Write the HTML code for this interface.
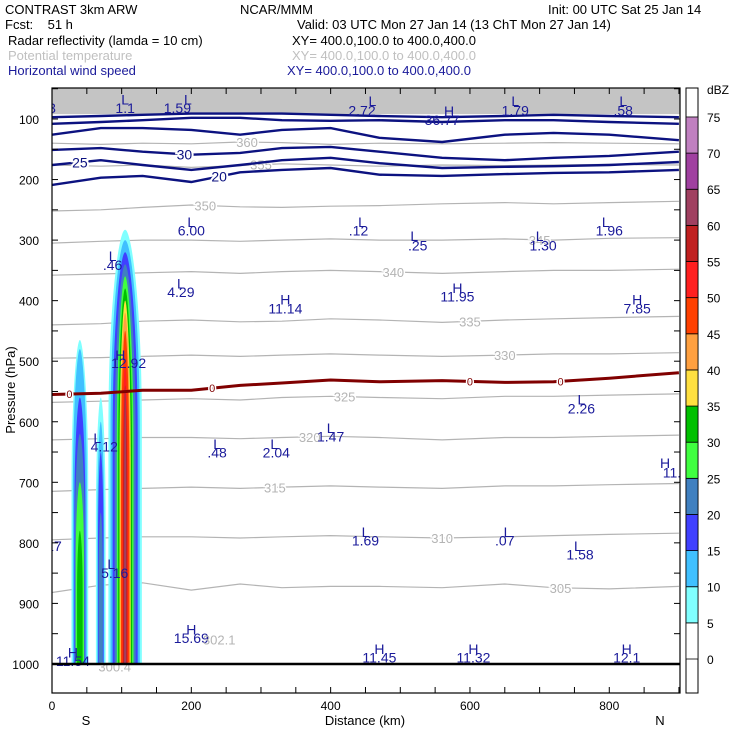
<!DOCTYPE html>
<html><head><meta charset="utf-8"><style>
body{margin:0;background:#fff;}
svg{display:block;font-family:"Liberation Sans",sans-serif;}
</style></head><body>
<svg id="chart" width="740" height="740" viewBox="0 0 740 740" xmlns="http://www.w3.org/2000/svg">
<g font-size="13" fill="#000">
<text x="5" y="14">CONTRAST  3km ARW</text>
<text x="240" y="14">NCAR/MMM</text>
<text x="548" y="14">Init: 00 UTC Sat 25 Jan 14</text>
<text x="5" y="29" xml:space="preserve">Fcst:    51 h</text>
<text x="297" y="29">Valid: 03 UTC Mon 27 Jan 14 (13 ChT Mon 27 Jan 14)</text>
<text x="8" y="45">Radar reflectivity (lamda = 10 cm)</text>
<text x="292" y="45">XY= 400.0,100.0 to 400.0,400.0</text>
<text x="8" y="60" fill="#c0c0c0">Potential temperature</text>
<text x="292" y="60" fill="#c0c0c0">XY= 400.0,100.0 to 400.0,400.0</text>
<text x="8" y="75" fill="#1a1a9a">Horizontal wind speed</text>
<text x="287" y="75" fill="#1a1a9a">XY= 400.0,100.0 to 400.0,400.0</text>
</g>
<defs><clipPath id="pc"><rect x="52" y="88" width="628" height="605"/></clipPath></defs>
<g id="plot" clip-path="url(#pc)"></g>
<g id="axes"></g>
<g id="cbar"></g>
</svg>
<script>
const NS="http://www.w3.org/2000/svg";
// ---- data ----
const kmPts=[0,70,130,200,270,330,400,470,560,650,720,800,900];
const thetaLevels=[360,355,350,345,340,335,330,325,320,315,310,305];
const thetaP=[
[140,142,140,141,138,139,142,140,141,140,139,140,141],
[176,178,176,180,177,174,176,178,176,177,176,175,176],
[252,250,246,242,245,246,244,243,240,238,240,238,236],
[305,302,300,300,302,300,298,300,300,298,300,297,296],
[358,356,354,352,355,352,350,352,355,352,350,350,348],
[440,438,434,432,435,434,430,432,436,432,430,428,426],
[495,494,492,490,492,490,488,490,492,490,488,488,486],
[568,566,564,562,564,560,558,560,562,558,558,556,554],
[630,628,626,626,628,626,624,626,630,626,626,624,622],
[715,712,710,708,710,708,706,708,710,706,706,704,702],
[795,792,790,790,792,790,788,790,792,790,788,786,784],
[882,870,866,878,868,874,872,872,874,868,874,876,872]];
const thetaLabelKm=[280,300,220,700,490,600,650,420,370,320,560,730];
const windLevels=[45,40,35,30,25,20];
const windP=[
[97,95,93,91,91,91,93,95,97,95,93,95,97],
[108,105,102,98,98,102,103,102,105,102,102,105,108],
[126,115,115,118,126,118,115,131,138,126,123,126,135],
[151,148,154,159,156,148,146,154,164,168,164,161,154],
[176,168,176,184,176,168,164,173,181,179,178,176,171],
[209,197,194,204,188,184,181,192,194,191,189,188,184]];
const windLabelKm=[null,null,null,190,40,240];
const freezeP=[555,553,548,548,540,536,531,534,532,535,534,528,519];
const dbzLevels=[5,10,15,20,25,30,35,40,45,50,55,60];
const dbzColors=["#80ffff","#40c0ff","#4040ff","#4080c0","#40ff40","#00c000","#ffe040","#ffa040","#ff4000","#ff2020","#c02020","#a04060"];
const cellCenterKm=[40,70,105];
const cellHalfWidth=[[12,10,8,7,6,4,0,0,0,0,0,0],[7,5,4,3,0,0,0,0,0,0,0,0],[24,21,18,15,12,10,8,7,6,4,3,1.5]];
const cellTopP=[[465,480,560,620,700,780,0,0,0,0,0,0],[560,600,650,750,0,0,0,0,0,0,0,0],[283,300,320,340,360,380,400,420,450,500,540,545]];
const extremaText=["L","1.1","L","1.59","L","2.72","H","36.77","L","1.79","L",".58","L","6.00","L",".12","L",".25","L","1.30","L","1.96","L",".46","L","4.29","H","11.14","H","11.95","H","7.85","H","12.92","L","2.26","L","1.47","L","4.12","L",".48","L","2.04","L","1.69","L",".07","L","1.58","L","5.16","H","15.69","H","11.54","H","11.45","H","11.32","H","12.1","H","11.",".17","3"];
const extremaKm=[105,105,195,180,460,445,570,560,665,665,820,820,200,200,445,440,520,525,700,705,795,800,87,87,185,185,335,335,582,582,840,840,98,110,760,760,400,400,65,75,237,237,319,322,450,450,654,650,755,758,85,90,200,200,30,30,470,470,605,605,825,825,880,890,0,0];
const extremaP=[68,82,68,82,70,86,87,102,70,86,70,86,270,284,270,284,293,309,293,309,270,284,326,341,372,386,398,413,379,393,398,413,490,503,563,578,610,624,627,641,637,651,637,651,782,796,782,796,805,819,835,850,943,957,981,995,975,989,975,989,975,989,668,684,805,82];
const pTicks=[100,200,300,400,500,600,700,800,900,1000];
const kmTicks=[0,200,400,600,800];
const cbarLabels=[0,5,10,15,20,25,30,35,40,45,50,55,60,65,70,75];
const cbarColors=["#ffffff","#80ffff","#40c0ff","#4040ff","#4080c0","#40ff40","#00c000","#ffe040","#ffa040","#ff4000","#ff2020","#c02020","#a04060","#a040a0","#c080c0"];
// ---- scales ----
const X=km=>52+km*0.6966;
const Y=p=>119+(p-100)*0.6055;
const plot=document.getElementById('plot'),axes=document.getElementById('axes'),cbar=document.getElementById('cbar');
function mk(tag,attrs,parent){const e=document.createElementNS(NS,tag);for(const k in attrs)e.setAttribute(k,attrs[k]);parent.appendChild(e);return e;}
function interp(arr,km){for(let i=0;i<kmPts.length-1;i++){if(km<=kmPts[i+1]){const t=(km-kmPts[i])/(kmPts[i+1]-kmPts[i]);return arr[i]+t*(arr[i+1]-arr[i]);}}return arr[arr.length-1];}
function lineD(arr){return kmPts.map((k,i)=>(i?'L':'M')+X(k).toFixed(1)+','+Y(arr[i]).toFixed(1)).join(' ');}
// grey top band
const band=mk('rect',{x:52,y:88,width:628,height:Y(92)-88,fill:'#c4c4c4'},plot);


// theta
thetaLevels.forEach((lv,i)=>{
 const l=mk('path',{d:lineD(thetaP[i]),fill:'none',stroke:'#b4b4b4','stroke-width':1.2},plot);
 
 
 const k=thetaLabelKm[i];
 const t=mk('text',{x:X(k),y:Y(interp(thetaP[i],k))+5,'font-size':13,fill:'#b4b4b4','text-anchor':'middle',stroke:'#fff','stroke-width':3,'paint-order':'stroke'},plot);
 t.textContent=lv;
 
 
});
// reflectivity (spindle-shaped cells)
cellCenterKm.forEach((c,ci)=>{
 dbzLevels.forEach((lv,li)=>{
  const hw=cellHalfWidth[ci][li],top=cellTopP[ci][li];
  if(!hw)return;
  const xl=X(c-hw),xr=X(c+hw),xc=X(c),yt=Y(top),yb=Y(1000);
  const ym=yt+(yb-yt)*0.45;
  const d=`M${xl},${yb} L${xl},${ym} C${xl},${yt+(ym-yt)*0.4} ${xc-(xr-xl)*0.2},${yt} ${xc},${yt} C${xc+(xr-xl)*0.2},${yt} ${xr},${yt+(ym-yt)*0.4} ${xr},${ym} L${xr},${yb} Z`;
  const p=mk('path',{d:d,fill:dbzColors[li]},plot);
  
  
 });
});
// wind
windLevels.forEach((lv,i)=>{
 const l=mk('path',{d:lineD(windP[i]),fill:'none',stroke:'#0c1280','stroke-width':2.4},plot);
 
 
 const k=windLabelKm[i];
 if(k!==null){
  const t=mk('text',{x:X(k),y:Y(interp(windP[i],k))+5,'font-size':14,fill:'#0c1280','text-anchor':'middle',stroke:'#fff','stroke-width':4,'paint-order':'stroke'},plot);
  t.textContent=lv;
  
  
 }
});
// freezing level
const fz=mk('path',{d:lineD(freezeP),fill:'none',stroke:'#800000','stroke-width':3},plot);


[25,230,600,730].forEach(k=>{
 const t=mk('text',{x:X(k),y:Y(interp(freezeP,k))+4,'font-size':11,fill:'#800000','text-anchor':'middle',stroke:'#fff','stroke-width':3,'paint-order':'stroke'},plot);
 t.textContent='0';
 
 
});
// extrema labels
extremaText.forEach((s,i)=>{
 const t=mk('text',{x:X(extremaKm[i]),y:Y(extremaP[i])+5,'font-size':14,fill:'#1a1a9a','text-anchor':'middle'},plot);
 t.textContent=s;
 
 
});
['302.1','300.4'].forEach((s,i)=>{
 const t=mk('text',{x:X(i?90:240),y:Y(i?1004:960)+5,'font-size':13,fill:'#b4b4b4','text-anchor':'middle'},plot);
 t.textContent=s;
 
 
});
// ground line
const g=mk('line',{x1:52,x2:680,y1:Y(1000),y2:Y(1000),stroke:'#000','stroke-width':2.5},plot);


// axes frame
const fr=mk('rect',{x:52,y:88,width:628,height:605,fill:'none',stroke:'#000','stroke-width':1.2},axes);


for(let p=50;p<=1050;p+=50){const y=Y(p);if(y<88||y>693)continue;
 mk('line',{x1:52,x2:58,y1:y,y2:y,stroke:'#000'},axes);mk('line',{x1:674,x2:680,y1:y,y2:y,stroke:'#000'},axes);}
for(let k=0;k<=900;k+=50){const x=X(k);mk('line',{x1:x,x2:x,y1:693,y2:687,stroke:'#000'},axes);mk('line',{x1:x,x2:x,y1:88,y2:94,stroke:'#000'},axes);}
pTicks.forEach(p=>{const t=mk('text',{x:39,y:Y(p)+5,'font-size':12,'text-anchor':'end'},axes);t.textContent=p;
 
 });
kmTicks.forEach(k=>{const t=mk('text',{x:X(k),y:710,'font-size':12,'text-anchor':'middle'},axes);t.textContent=k;
 
 });
[['S',86],['Distance (km)',365],['N',660]].forEach(([s,x])=>{const t=mk('text',{x:x,y:725,'font-size':13,'text-anchor':'middle'},axes);t.textContent=s;
 
 });
const yt=mk('text',{x:0,y:0,'font-size':13,'text-anchor':'middle',transform:'translate(15,390) rotate(-90)'},axes);yt.textContent='Pressure (hPa)';


// colorbar
const CB=v=>659-v*7.227;
mk('rect',{x:686,y:88,width:12,height:605,fill:'#fff',stroke:'#000'},cbar);
cbarColors.forEach((c,i)=>{const r=mk('rect',{x:686,y:CB(i*5+5),width:12,height:CB(i*5)-CB(i*5+5),fill:c,stroke:'#000','stroke-width':0.8},cbar);
 
 });
cbarLabels.forEach(v=>{const t=mk('text',{x:707,y:CB(v)+5,'font-size':12},cbar);t.textContent=v;
 
 });
const du=mk('text',{x:707,y:94,'font-size':12},cbar);du.textContent='dBZ';


</script>
</body></html>
